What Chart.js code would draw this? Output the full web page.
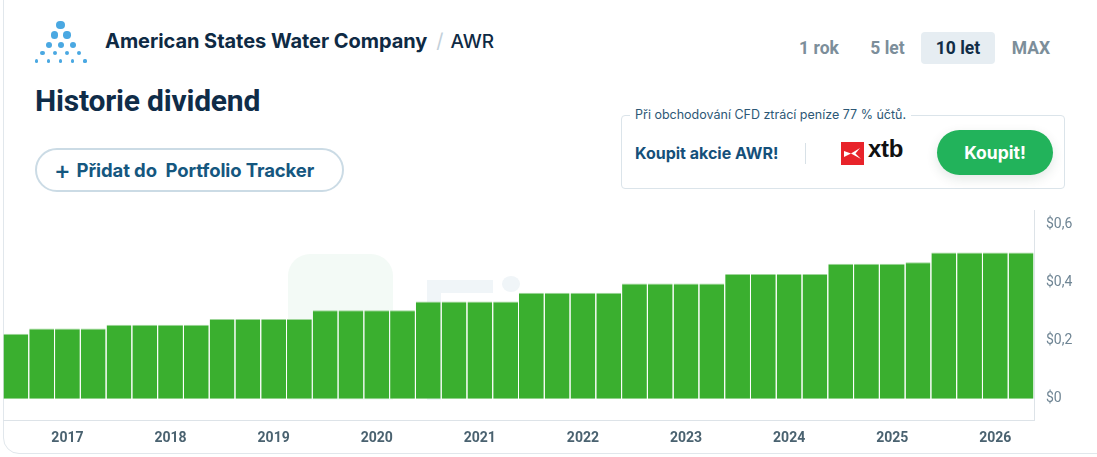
<!DOCTYPE html>
<html lang="cs">
<head>
<meta charset="utf-8">
<title>Historie dividend – AWR</title>
<script src="https://cdn.jsdelivr.net/npm/chart.js@4.4.1/dist/chart.umd.min.js"></script>
<style>
  html,body{margin:0;padding:0;background:#fff;}
  body{width:1097px;height:457px;position:relative;overflow:hidden;font-family:Roboto,Arial,sans-serif;}
  .card{position:absolute;left:3px;top:-30px;width:1140px;height:484px;border:1px solid #e1e7ec;border-radius:16px;box-sizing:border-box;}
  .logo{position:absolute;left:0;top:0;width:100px;height:70px;}
  .logo i{position:absolute;border-radius:50%;background:#4aa8e2;}
  .company{position:absolute;left:105px;top:29px;font-family:Inter,"Open Sans",sans-serif;font-weight:700;font-size:20px;color:#0e2a44;letter-spacing:-0.05px;white-space:nowrap;}
  .company .sl{color:#c3d0da;font-weight:400;margin:0 7px 0 9px;}
  .company .tk{font-weight:500;font-size:19px;}
  h1{position:absolute;left:35px;top:83px;margin:0;font-family:Roboto,sans-serif;font-weight:700;font-size:30px;color:#0f2c48;letter-spacing:-0.2px;}
  .addbtn{position:absolute;left:35px;top:148px;width:309px;height:44px;box-sizing:border-box;border:2px solid #cbdbe5;border-radius:22px;font-family:Inter,sans-serif;font-weight:700;font-size:18.5px;color:#15577f;line-height:40px;padding-left:17px;white-space:nowrap;letter-spacing:-0.1px;}
  .addbtn b{font-size:25px;font-weight:500;vertical-align:-2px;margin-right:6px;}
  .tabs{position:absolute;top:32px;left:0;}
  .tab{position:absolute;top:0;height:32px;line-height:33px;font-family:Roboto,sans-serif;font-weight:700;font-size:17.5px;color:#7c8e9a;text-align:center;}
  .tab.on{background:#e6edf2;color:#102c46;border-radius:4px;}
  .cfd{position:absolute;left:621px;top:115px;width:444px;height:74px;box-sizing:border-box;border:1px solid #dbe4ea;border-radius:4px;}
  .cfd .lg{position:absolute;left:8px;top:-9px;background:#fff;padding:0 5px;font-family:Inter,sans-serif;font-size:12.5px;color:#2d5876;white-space:nowrap;}
  .cfd .buy{position:absolute;left:13px;top:27px;font-family:Inter,sans-serif;font-weight:700;font-size:16px;color:#15507a;white-space:nowrap;}
  .cfd .div{position:absolute;left:183px;top:27px;width:1px;height:21px;background:#d8e1e7;}
  .xtb{position:absolute;left:219px;top:26px;width:23px;height:23px;background:#e8232a;}
  .xtbt{position:absolute;left:246px;top:21px;font-family:"Liberation Sans",Arial,sans-serif;font-weight:700;font-size:24px;line-height:24px;color:#111;letter-spacing:-0.3px;}
  .kbtn{position:absolute;left:315px;top:14px;width:116px;height:45px;border-radius:23px;background:#22b35b;color:#fff;font-family:Inter,sans-serif;font-weight:700;font-size:17.5px;text-align:center;line-height:45px;box-shadow:0 4px 12px rgba(20,60,40,.12);}
  .wm{position:absolute;}
  .chartbox{position:absolute;left:3px;top:190px;width:1094px;height:265px;}
</style>
</head>
<body>
<div class="card"></div>

<div class="logo" id="logo"></div>
<div class="company">American States Water Company<span class="sl">/</span><span class="tk">AWR</span></div>
<h1>Historie dividend</h1>
<div class="addbtn"><b>+</b>Přidat do&nbsp; Portfolio Tracker</div>

<div class="tabs">
  <div class="tab" style="left:790px;width:58px">1 rok</div>
  <div class="tab" style="left:860px;width:55px">5 let</div>
  <div class="tab on" style="left:921px;width:74px">10 let</div>
  <div class="tab" style="left:1005px;width:52px">MAX</div>
</div>

<div class="cfd">
  <div class="lg">Při obchodování CFD ztrácí peníze 77 % účtů.</div>
  <div class="buy">Koupit akcie AWR!</div>
  <div class="div"></div>
  <div class="xtb"><svg width="23" height="23" viewBox="0 0 23 23"><path d="M3 9 L10 11.5 L3 15 Z M10 11.5 L19 6 L14.5 11.5 L20 17 Z" fill="#fff"/></svg></div>
  <div class="xtbt">xtb</div>
  <div class="kbtn">Koupit!</div>
</div>

<!-- faint watermark behind the bars -->
<div class="wm" style="left:288px;top:254px;width:105px;height:146px;background:#f3faf6;border-radius:22px 22px 0 0"></div>
<div class="wm" style="left:427px;top:280px;width:66px;height:13px;background:#f0f5f8"></div>
<div class="wm" style="left:427px;top:280px;width:14px;height:120px;background:#f0f5f8"></div>
<div class="wm" style="left:502px;top:276px;width:18px;height:16px;background:#f0f5f8;border-radius:50%"></div>

<div class="chartbox"><canvas id="c"></canvas></div>

<script>
// quarterly dividend periods (10 years)
const quarters=[
  '2016 Q3','2016 Q4','2017 Q1','2017 Q2','2017 Q3','2017 Q4','2018 Q1','2018 Q2',
  '2018 Q3','2018 Q4','2019 Q1','2019 Q2','2019 Q3','2019 Q4','2020 Q1','2020 Q2',
  '2020 Q3','2020 Q4','2021 Q1','2021 Q2','2021 Q3','2021 Q4','2022 Q1','2022 Q2',
  '2022 Q3','2022 Q4','2023 Q1','2023 Q2','2023 Q3','2023 Q4','2024 Q1','2024 Q2',
  '2024 Q3','2024 Q4','2025 Q1','2025 Q2','2025 Q3','2025 Q4','2026 Q1','2026 Q2'
];
// dividend per share, USD
const dividends=[
  0.224,0.242,0.242,0.242,0.255,0.255,0.255,0.255,
  0.275,0.275,0.275,0.275,0.305,0.305,0.305,0.305,
  0.335,0.335,0.335,0.335,0.365,0.365,0.365,0.365,
  0.3975,0.3975,0.3975,0.3975,0.43,0.43,0.43,0.43,
  0.465,0.465,0.465,0.47,0.504,0.504,0.504,0.504
];
const yTicks=[0,0.2,0.4,0.6];
const yLabels=['$0','$0,2','$0,4','$0,6'];

// logo: triangle of dots, one row per entry [count, radius, y]
(function(){
  const rows=[[1,4.4,25],[2,3.7,35],[3,3.0,44.7],[4,2.2,53.3],[5,1.6,61]];
  const logo=document.getElementById('logo');
  rows.forEach(([n,r,y])=>{
    for(let k=0;k<n;k++){
      const x=60.8+(k-(n-1)/2)*12.1;
      const d=document.createElement('i');
      d.style.left=(x-r)+'px';d.style.top=(y-r)+'px';d.style.width=d.style.height=(2*r)+'px';
      logo.appendChild(d);
    }
  });
})();

const GREEN='#3aaf2f', AXIS='#dde3e8';
new Chart(document.getElementById('c'),{
  type:'bar',
  data:{labels:quarters,datasets:[{
    data:dividends,backgroundColor:GREEN,
    borderColor:'#9fd69a',borderWidth:{top:1,left:0,right:0,bottom:0},borderSkipped:'bottom',
    barPercentage:0.962,categoryPercentage:1
  }]},
  options:{
    responsive:true,maintainAspectRatio:false,animation:false,
    layout:{padding:{top:8,left:0,right:0,bottom:0}},
    plugins:{legend:{display:false},tooltip:{enabled:false}},
    scales:{
      x:{
        grid:{display:false,drawTicks:false},
        border:{display:true,color:AXIS,width:1},
        ticks:{autoSkip:false,maxRotation:0,padding:10,color:'#4a6270',font:{family:'Roboto',size:14,weight:'bold'},
          callback:(v,i)=>quarters[i].endsWith('Q1')?quarters[i].slice(0,4):''},
        afterFit:s=>{s.height=35;}
      },
      y:{
        position:'right',min:-0.073,max:0.649,
        grid:{display:false,drawTicks:false},
        border:{display:true,color:AXIS,width:1},
        afterBuildTicks:s=>{s.ticks=yTicks.map(v=>({value:v}));},
        ticks:{padding:12,color:'#6f8594',font:{family:'Roboto',size:14},
          callback:v=>yLabels[yTicks.indexOf(v)]},
        afterFit:s=>{s.width=63;}
      }
    }
  }
});
</script>
</body>
</html>
